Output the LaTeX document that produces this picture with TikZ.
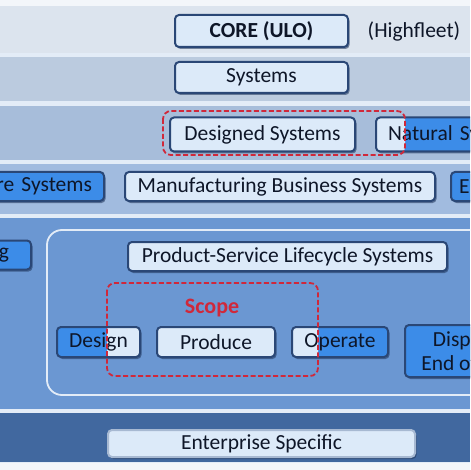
\documentclass[tikz,border=0pt]{standalone}
\usepackage{fontspec}
\setmainfont{Carlito}
\usetikzlibrary{shadows}

\definecolor{pagewhite}{HTML}{F3F6FA}
\definecolor{bandgap}{HTML}{E3ECF7}
\definecolor{bandA}{HTML}{DCE4EE}
\definecolor{bandB}{HTML}{BBCBDF}
\definecolor{bandC}{HTML}{A7BDDA}
\definecolor{bandD}{HTML}{A1BBDF}
\definecolor{bandE}{HTML}{6B97D2}
\definecolor{bandF}{HTML}{41689F}
\definecolor{boxlight}{HTML}{DCEAF9}
\definecolor{boxblue}{HTML}{3C8CE8}
\definecolor{boxedge}{HTML}{2A4776}
\definecolor{inktext}{HTML}{0E1628}
\definecolor{shadowblue}{HTML}{1E3459}
\definecolor{scopered}{HTML}{D0283A}

\tikzset{
  litbox/.style={draw=boxedge, line width=2pt, fill=boxlight, rounded corners=4pt,
    text=inktext, inner sep=0pt,
    drop shadow={shadow xshift=1.5pt, shadow yshift=-2pt, opacity=0.55, fill=shadowblue}},
  bluebox/.style={litbox, fill=boxblue},
  inscope/.style={path picture={\fill[boxlight, rounded corners=8pt] (#1 nw) rectangle (#1 se);}},
  scopeline/.style={draw=scopered, line width=1.8pt, dash pattern=on 5pt off 2.5pt, rounded corners=8pt},
}

\begin{document}
\begin{tikzpicture}[x=1pt, y=-1pt, every node/.style={font=\fontsize{21.5}{24}\selectfont}]
\useasboundingbox (0,0) rectangle (470,470);
\clip (0,0) rectangle (470,470);

%% bands
\fill[bandgap] (0,0) rectangle (470,470);
\fill[pagewhite] (0,0) rectangle (470,6);
\fill[pagewhite] (0,463) rectangle (470,470);
\fill[bandA] (0,6) rectangle (470,53);
\fill[bandB] (0,57) rectangle (470,101);
\fill[bandC] (0,106) rectangle (470,160);
\fill[bandD] (0,164) rectangle (470,214);
\fill[bandE] (0,218) rectangle (470,409);
\fill[bandF] (0,413) rectangle (470,462);

%% scope regions
\coordinate (ds nw) at (163,111);
\coordinate (ds se) at (405,155);
\coordinate (sc nw) at (107,283);
\coordinate (sc se) at (318,376);

%% core
\node[litbox, minimum width=173pt, minimum height=32pt] (core) at (261.5,31)
  {\bfseries CORE (ULO)};
\node[text=inktext] (highfleet) at (414,31) {(Highfleet)};
\node[litbox, minimum width=173pt, minimum height=31pt] (systems) at (261.5,77.5) {Systems};

%% designed / natural
\node[litbox, minimum width=185pt, minimum height=34pt] (designed) at (262.5,134.5)
  {Designed Systems};
\node[bluebox, inscope=ds, anchor=west, minimum height=34pt, text width=170pt,
  align=left, inner xsep=12pt] (natural) at (375,134.5) {Natural Systems};
\draw[scopeline] (ds nw) rectangle (ds se);

%% business systems
\node[bluebox, anchor=east, minimum height=29pt, text width=150pt, align=right,
  inner xsep=12pt] (resys) at (105,186.5) {re Systems};
\node[litbox, minimum width=310pt, minimum height=29pt] (mbs) at (280,186.5)
  {Manufacturing Business Systems};
\node[bluebox, anchor=west, minimum height=29pt, text width=80pt, align=left,
  inner xsep=8pt] (ebox) at (450,186.5) {E};

%% lifecycle
\node[bluebox, anchor=east, minimum height=29pt, text width=80pt, align=right,
  inner xsep=22pt] (gbox) at (32,255) {g};
\draw[draw=bandgap, line width=1.8pt, rounded corners=15pt] (47,230) rectangle (520,395);
\node[litbox, minimum width=319pt, minimum height=29pt] (psls) at (287.5,256.5)
  {Product-Service Lifecycle Systems};

\node[bluebox, inscope=sc, minimum width=83pt, minimum height=30pt] (design) at (98.5,342) {Design};
\node[litbox, minimum width=118pt, minimum height=30pt] (produce) at (216,342) {Produce};
\node[bluebox, inscope=sc, minimum width=96pt, minimum height=30pt] (operate) at (340,342) {Operate};
\node[bluebox, minimum width=124pt, minimum height=52pt, align=center] (dispose) at (467,351)
  {Dispose\\End of Life};

\draw[scopeline] (sc nw) rectangle (sc se);
\node[text=scopered, font=\fontsize{22}{24}\selectfont\bfseries] (scope) at (212,308) {Scope};

%% enterprise
\node[litbox, draw=boxlight!70!boxedge, minimum width=307pt, minimum height=27pt] (enterprise)
  at (261.5,443.5) {Enterprise Specific};
\end{tikzpicture}
\end{document}
